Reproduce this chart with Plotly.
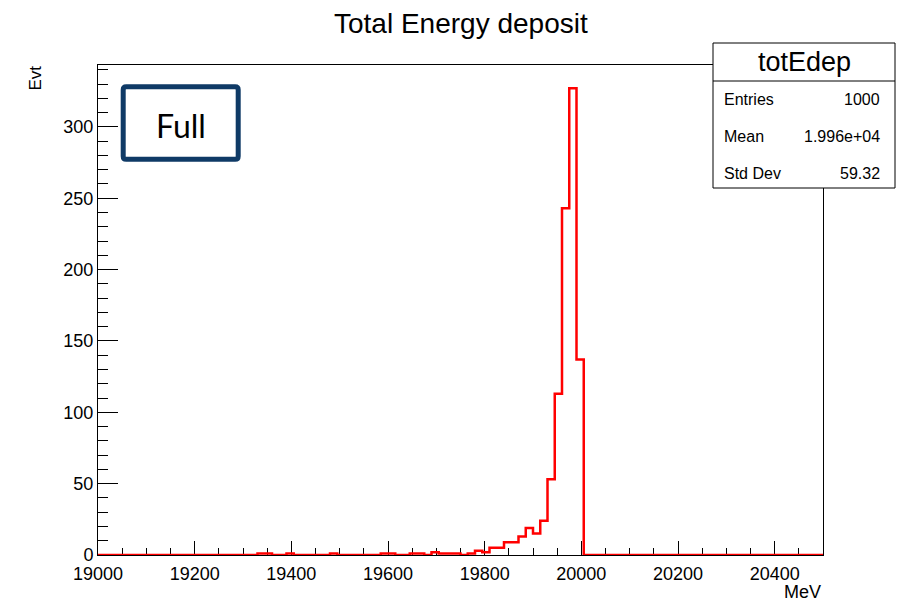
import numpy as np
import plotly.graph_objects as go

# ---- data ----
x_min, x_max, bin_width = 19000, 20500, 15
bin_low_edges = [19330, 19345, 19390, 19480, 19585, 19600, 19645, 19660, 19690,
                 19705, 19720, 19735, 19765, 19780, 19795, 19810, 19825, 19840,
                 19855, 19870, 19885, 19900, 19915, 19930, 19945, 19960, 19975, 19990]
bin_counts = [1, 1, 1, 1, 1, 1, 1, 1, 2,
              1, 1, 1, 1, 3, 2, 5, 5, 9,
              9, 13, 19, 15, 24, 53, 113, 243, 327, 137]
stats_labels = ["Entries", "Mean", "Std Dev"]
stats_values = ["1000", "1.996e+04", "59.32"]
x_tick_vals = [19000, 19200, 19400, 19600, 19800, 20000, 20200, 20400]
y_tick_vals = [0, 50, 100, 150, 200, 250, 300]

# build full histogram
nbins = int((x_max - x_min) / bin_width)
edges = x_min + bin_width * np.arange(nbins + 1)
counts = np.zeros(nbins)
for e, c in zip(bin_low_edges, bin_counts):
    counts[int(round((e - x_min) / bin_width))] = c
xs = edges
ys = np.append(counts, counts[-1])
ymax = counts.max() * 1.05

# plot area pixel geometry
L, R, T, B = 98, 823, 65, 555
W, H = 898, 601
def px(x):
    return (x - L) / (R - L)
def py(y):
    return (B - y) / (B - T)

FONT = "Liberation Sans, Arial, Helvetica, sans-serif"

fig = go.Figure()
fig.add_trace(go.Scatter(x=xs, y=ys, mode="lines", line=dict(shape="hv", color="#ff0000", width=2.5),
                         hoverinfo="skip", showlegend=False))

fig.update_layout(
    width=W, height=H,
    margin=dict(l=L, r=W - R, t=T, b=H - B, pad=0),
    paper_bgcolor="white", plot_bgcolor="white",
    showlegend=False,
    font=dict(family=FONT, color="black"),
)
fig.update_xaxes(
    range=[x_min, x_max], tickvals=x_tick_vals, tickformat="d",
    ticks="inside", ticklen=14, tickwidth=1, tickcolor="black",
    minor=dict(dtick=50, tick0=x_min, ticks="inside", ticklen=7, tickwidth=1, tickcolor="black"),
    showline=True, mirror=True, linecolor="black", linewidth=1,
    showgrid=False, zeroline=False, layer="below traces",
    tickfont=dict(size=18, family=FONT, color="black"), ticklabelstandoff=2,
)
fig.update_yaxes(
    range=[0, ymax], tickvals=y_tick_vals,
    ticks="inside", ticklen=20, tickwidth=1, tickcolor="black",
    minor=dict(dtick=10, tick0=0, ticks="inside", ticklen=10, tickwidth=1, tickcolor="black"),
    showline=True, mirror=True, linecolor="black", linewidth=1,
    showgrid=False, zeroline=False, layer="below traces",
    tickfont=dict(size=18, family=FONT, color="black"),
)

ann = []
# title
ann.append(dict(text="Total Energy deposit", x=0.5, y=py(23), xref="paper", yref="paper",
                xanchor="center", yanchor="middle", showarrow=False, font=dict(size=28, family=FONT)))
# axis titles
ann.append(dict(text="Evt", x=px(35), y=py(64), xref="paper", yref="paper", textangle=-90,
                xanchor="center", yanchor="top", showarrow=False, font=dict(size=17, family=FONT)))
ann.append(dict(text="MeV", x=1.0, y=py(592), xref="paper", yref="paper",
                xanchor="right", yanchor="middle", showarrow=False, font=dict(size=18, family=FONT)))

shapes = []
# stats box
sx0, sx1, sy0, sy1 = 713, 895, 43, 188
shapes.append(dict(type="rect", xref="paper", yref="paper", x0=px(sx0), x1=px(sx1), y0=py(sy1), y1=py(sy0),
                   line=dict(color="black", width=1), fillcolor="white", layer="above"))
shapes.append(dict(type="line", xref="paper", yref="paper", x0=px(sx0), x1=px(sx1), y0=py(81), y1=py(81),
                   line=dict(color="black", width=1), layer="above"))
ann.append(dict(text="totEdep", x=px((sx0 + sx1) / 2), y=py(62), xref="paper", yref="paper",
                xanchor="center", yanchor="middle", showarrow=False, font=dict(size=27, family=FONT)))
row_y = [100, 136, 173]
for lab, val, ry in zip(stats_labels, stats_values, row_y):
    ann.append(dict(text=lab, x=px(722), y=py(ry), xref="paper", yref="paper",
                    xanchor="left", yanchor="middle", showarrow=False, font=dict(size=16, family=FONT)))
    ann.append(dict(text=val, x=px(882), y=py(ry), xref="paper", yref="paper",
                    xanchor="right", yanchor="middle", showarrow=False, font=dict(size=16, family=FONT)))

# "Full" label box with slightly rounded corners
bx0, bx1, by0, by1, r = 123.2, 238.2, 86.8, 159.2, 3
def P(x, y):
    return f"{px(x):.5f},{py(y):.5f}"
path = (f"M {P(bx0 + r, by0)} L {P(bx1 - r, by0)} Q {P(bx1, by0)} {P(bx1, by0 + r)} "
        f"L {P(bx1, by1 - r)} Q {P(bx1, by1)} {P(bx1 - r, by1)} "
        f"L {P(bx0 + r, by1)} Q {P(bx0, by1)} {P(bx0, by1 - r)} "
        f"L {P(bx0, by0 + r)} Q {P(bx0, by0)} {P(bx0 + r, by0)} Z")
shapes.append(dict(type="path", xref="paper", yref="paper", path=path,
                   line=dict(color="#0f3a66", width=5), fillcolor="white", layer="above"))
ann.append(dict(text="Full", x=px(181), y=py(125), xref="paper", yref="paper",
                xanchor="center", yanchor="middle", showarrow=False,
                font=dict(size=32, family="Lato, Open Sans, sans-serif", color="black")))

fig.update_layout(annotations=ann, shapes=shapes)
fig.write_html("out.html")
